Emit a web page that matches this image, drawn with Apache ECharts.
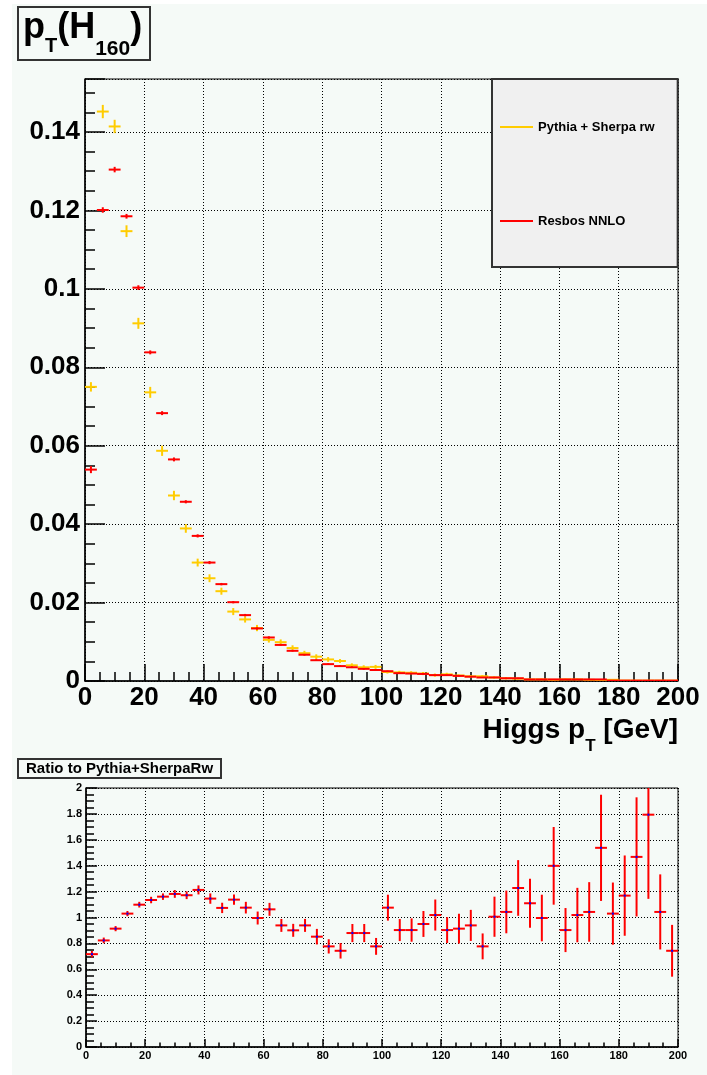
<!DOCTYPE html>
<html><head><meta charset="utf-8">
<script src="https://cdn.jsdelivr.net/npm/echarts@6/dist/echarts.min.js"></script>
<style>html,body{margin:0;padding:0;background:#fff}#c{width:707px;height:1075px}</style>
</head><body><div id="c"></div><script>
// ---- data ----
const binCenters = [2,6,10,14,18,22,26,30,34,38,42,46,50,54,58,62,66,70,74,78,
  82,86,90,94,98,102,106,110,114,118,122,126,130,134,138,142,146,150,154,158,
  162,166,170,174,178,182,186,190,194,198];
const binWidth = 4;
const pythia = [0.0750,0.1452,0.1414,0.1147,0.0912,0.0736,0.0587,0.0473,0.0389,0.0302,
  0.0262,0.0229,0.0177,0.0157,0.0135,0.0105,0.0099,0.0084,0.0071,0.0062,
  0.0055,0.0051,0.0040,0.0035,0.0036,0.0023,0.0022,0.0021,0.0019,0.0015,
  0.0017,0.0014,0.0012,0.0012,0.0009,0.0007,0.0006,0.0004,0.0004,0.0003,
  0.0004,0.0004,0.0003,0.0002,0.0003,0.0001,0.0001,0.0001,0.0001,0.0001];
const pythiaErr = [0.0012,0.0017,0.0017,0.0015,0.0014,0.0014,0.0013,0.0012,0.0011,0.0010,
  0.0010,0.0009,0.0009,0.0008,0.0008,0.0007,0.0007,0.0007,0.0006,0.0006,
  0.0006,0.0005,0.0005,0.0005,0.0005,0.0004,0.0004,0.0004,0.0004,0.0004,
  0.0004,0.0003,0.0003,0.0003,0.0003,0.0003,0.0002,0.0002,0.0002,0.0002,
  0.0002,0.0002,0.0002,0.0001,0.0002,0.0001,0.0001,0.0001,0.0001,0.0001];
const resbos = [0.0539,0.1201,0.1304,0.1185,0.1003,0.0838,0.0683,0.0565,0.0457,0.0370,
  0.0302,0.0247,0.0201,0.0168,0.0134,0.0111,0.0092,0.0077,0.0067,0.0053,
  0.0043,0.0038,0.0035,0.0031,0.0028,0.0025,0.0020,0.0019,0.0018,0.0015,
  0.0015,0.0013,0.0011,0.0009,0.0009,0.0007,0.0007,0.0004,0.0004,0.0004,
  0.0004,0.0004,0.0004,0.0004,0.0001,0.0001,0.0001,0.0001,0.0001,0.0001];
const resbosErr = [0.0009,0.0007,0.0007,0.0006,0.0006,0.0005,0.0005,0.0005,0.0004,0.0004,
  0.0004,0.0003,0.0003,0.0003,0.0003,0.0003,0.0002,0.0002,0.0002,0.0002,
  0.0002,0.0002,0.0002,0.0002,0.0001,0.0001,0.0001,0.0001,0.0001,0.0001,
  0.0001,0.0001,0.0001,0.0001,0.0001,0.0001,0.0001,0.0001,0.0001,0.0001,
  0.0001,0.0001,0.0001,0.0001,0.0001,0.0001,0.0001,0.0001,0.0001,0.0001];
const ratio = [0.717,0.823,0.914,1.030,1.099,1.135,1.161,1.182,1.172,1.213,
  1.146,1.074,1.138,1.076,0.996,1.063,0.939,0.901,0.939,0.852,
  0.777,0.743,0.880,0.880,0.777,1.076,0.903,0.903,0.950,1.019,
  0.903,0.914,0.939,0.777,1.006,1.043,1.228,1.110,0.996,1.399,
  0.903,1.019,1.043,1.538,1.030,1.169,1.468,1.794,1.043,0.743];
const ratioErr = [0.025,0.022,0.02,0.02,0.022,0.025,0.025,0.03,0.03,0.035,
  0.04,0.04,0.04,0.045,0.05,0.05,0.05,0.05,0.05,0.06,
  0.055,0.06,0.07,0.07,0.065,0.1,0.085,0.09,0.1,0.12,
  0.1,0.115,0.12,0.1,0.155,0.165,0.215,0.19,0.18,0.3,
  0.17,0.21,0.23,0.41,0.24,0.31,0.46,0.65,0.29,0.2];
const xTicks = [0,20,40,60,80,100,120,140,160,180,200];
const seriesNames = ['Pythia + Sherpa rw','Resbos NNLO'];

// ---- style ----
const FAM = '"Liberation Sans", Arial, Helvetica, sans-serif';
const YELLOW = '#ffcc00', RED = '#ff0000', BG = '#f5faf7';
const mctx = document.createElement('canvas').getContext('2d');
function tw(t, f){ mctx.font = f; return mctx.measureText(t).width; }

function toData(xs, ys, es){ return xs.map((x,i)=>[x, ys[i], es[i]]); }

function crossRenderer(color, lw, dot){
  return function(params, api){
    const x = api.value(0), y = api.value(1), e = api.value(2);
    const l = api.coord([x - binWidth/2, y]), r = api.coord([x + binWidth/2, y]);
    const t = api.coord([x, y + e]), b = api.coord([x, y - e]);
    const ch = [
      {type:'line', shape:{x1:l[0],y1:l[1],x2:r[0],y2:r[1]}, style:{stroke:color, lineWidth:lw}},
      {type:'line', shape:{x1:t[0],y1:t[1],x2:b[0],y2:b[1]}, style:{stroke:color, lineWidth:lw}}
    ];
    if (dot){ const c = api.coord([x,y]); ch.push({type:'rect', shape:{x:c[0]-1,y:c[1]-1,width:2,height:2}, style:{fill:'#0000ff'}}); }
    return {type:'group', children: ch};
  };
}

function pieceTexts(pieces, startX){
  let x = startX; const out = [];
  pieces.forEach(p => {
    const [txt, size, base] = p;
    const f = 'bold ' + size + 'px ' + FAM;
    out.push({type:'text', x: x, y: base - 0.35*size, z: 50,
      style:{text: txt, font: f, fill:'#000', align:'left', verticalAlign:'middle'}});
    x += tw(txt, f);
  });
  return out;
}
function piecesWidth(pieces){ return pieces.reduce((s,p)=>s+tw(p[0], 'bold '+p[1]+'px '+FAM), 0); }

const titlePieces = [['p',36,41],['T',20,53.5],['(H',36,41],['160',21,56.5],[')',36,41]];
const xNamePieces = [['Higgs p',28,740],['T',17,752],[' [GeV]',28,740]];
const xNameStart = 678 - piecesWidth(xNamePieces);

const dotted = {type:[1,2], color:'#000', width:1};
const bigLabel = {fontFamily: FAM, fontWeight:'bold', fontSize:26, color:'#000'};
const smallLabel = {fontFamily: FAM, fontWeight:'bold', fontSize:11, color:'#000'};

const chart = echarts.init(document.getElementById('c'), null, {renderer:'canvas'});
chart.setOption({
  animation: false,
  backgroundColor: '#ffffff',
  title: [{
    text: 'Ratio to Pythia+SherpaRw', left: 18, top: 759,
    padding: [2, 8, 2, 8], borderColor: '#333', borderWidth: 2,
    textStyle: {fontFamily: FAM, fontWeight:'bold', fontSize: 15, color:'#000', lineHeight: 15}
  }],
  legend: {
    data: seriesNames.map(n => ({name: n, icon: 'rect'})),
    orient: 'vertical', left: 492, top: 79,
    padding: [41, 23, 39, 8], itemGap: 80,
    itemWidth: 33, itemHeight: 2, selectedMode: false,
    backgroundColor: '#f0f0f0', borderColor: '#333', borderWidth: 2, borderRadius: 0,
    textStyle: {fontFamily: FAM, fontWeight:'bold', fontSize: 13, color:'#000', lineHeight: 14}
  },
  graphic: [
    {type:'rect', z:-10, silent:true, shape:{x:12, y:4, width:695, height:1071}, style:{fill:BG}},
    {type:'rect', z:40, shape:{x:18, y:7, width:132, height:53}, style:{fill:'none', stroke:'#333', lineWidth:2}},
    ...pieceTexts(titlePieces, 23),
    ...pieceTexts(xNamePieces, xNameStart)
  ],
  grid: [
    {left:85, right:29, top:79, height:602, show:true, borderColor:'#000', borderWidth:1, backgroundColor:'transparent', outerBoundsMode:'none'},
    {left:86, right:29, top:788, height:259, show:true, borderColor:'#000', borderWidth:1, backgroundColor:'transparent', outerBoundsMode:'none'}
  ],
  xAxis: [
    {gridIndex:0, type:'value', min:xTicks[0], max:xTicks[xTicks.length-1], interval:20, position:'bottom',
     axisLine:{show:true, onZero:false, lineStyle:{color:'#000', width:1.5}},
     axisTick:{show:true, inside:true, length:17, lineStyle:{color:'#000', width:1.5}},
     minorTick:{show:true, splitNumber:4, length:9, lineStyle:{color:'#000', width:1.5}},
     axisLabel:{...bigLabel, margin:4},
     splitLine:{show:true, lineStyle:dotted}},
    {gridIndex:1, type:'value', min:xTicks[0], max:xTicks[xTicks.length-1], interval:20, position:'bottom',
     axisLine:{show:true, onZero:false, lineStyle:{color:'#000', width:1.5}},
     axisTick:{show:true, inside:true, length:8, lineStyle:{color:'#000', width:1.5}},
     minorTick:{show:true, splitNumber:4, length:4.5, lineStyle:{color:'#000', width:1.5}},
     axisLabel:{...smallLabel, margin:3},
     splitLine:{show:true, lineStyle:dotted}}
  ],
  yAxis: [
    {gridIndex:0, type:'value', min:0, max:0.1535, interval:0.02, position:'left',
     axisLine:{show:true, onZero:false, lineStyle:{color:'#000', width:1.5}},
     axisTick:{show:true, inside:true, length:20, lineStyle:{color:'#000', width:1.5}},
     axisLabel:{...bigLabel, margin:5, formatter: v => { const r = v/0.02; return Math.abs(r-Math.round(r))<1e-6 ? String(+v.toFixed(3)) : ''; }},
     splitLine:{show:true, lineStyle:dotted}},
    {gridIndex:0, type:'value', min:0, max:0.1535, interval:0.005, position:'left',
     axisLine:{show:false}, axisLabel:{show:false}, splitLine:{show:false},
     axisTick:{show:true, inside:true, length:10, lineStyle:{color:'#000', width:1.5}}},
    {gridIndex:1, type:'value', min:0, max:2, interval:0.2, position:'left',
     axisLine:{show:true, onZero:false, lineStyle:{color:'#000', width:1.5}},
     axisTick:{show:true, inside:true, length:11, lineStyle:{color:'#000', width:1.5}},
     minorTick:{show:true, splitNumber:4, length:8, lineStyle:{color:'#000', width:1.5}},
     axisLabel:{...smallLabel, margin:4},
     splitLine:{show:true, lineStyle:dotted}}
  ],
  series: [
    {name: seriesNames[0], type:'custom', xAxisIndex:0, yAxisIndex:0, clip:true,
     itemStyle:{color:YELLOW}, encode:{x:0, y:1},
     renderItem: crossRenderer(YELLOW, 2, false), data: toData(binCenters, pythia, pythiaErr)},
    {name: seriesNames[1], type:'custom', xAxisIndex:0, yAxisIndex:0, clip:true,
     itemStyle:{color:RED}, encode:{x:0, y:1},
     renderItem: crossRenderer(RED, 2, false), data: toData(binCenters, resbos, resbosErr)},
    {name: 'Ratio', type:'custom', xAxisIndex:1, yAxisIndex:2, clip:true,
     itemStyle:{color:RED}, encode:{x:0, y:1},
     renderItem: crossRenderer(RED, 2, true), data: toData(binCenters, ratio, ratioErr)}
  ]
});
</script></body></html>
